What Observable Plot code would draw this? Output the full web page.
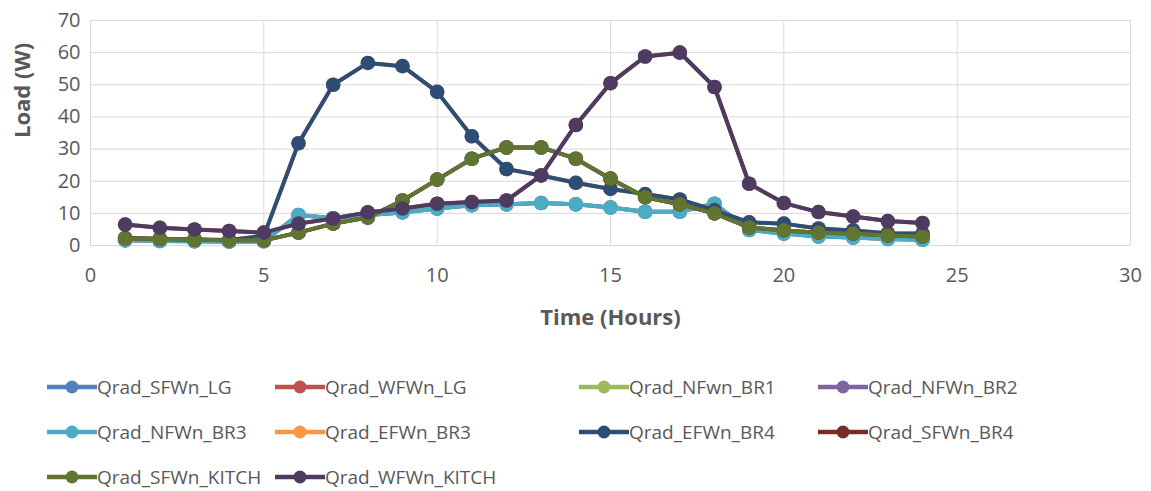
<!DOCTYPE html>
<html><head><meta charset="utf-8">
<script src="https://cdn.jsdelivr.net/npm/d3@7"></script>
<script src="https://cdn.jsdelivr.net/npm/@observablehq/plot@0.6"></script>
<style>
body{margin:0;background:#fff;font-family:"Open Sans",sans-serif;}
#wrap{position:relative;width:1151px;height:491px;overflow:hidden;}
#chart{position:absolute;left:0;top:0;}
.item{position:absolute;display:flex;align-items:center;height:30px;font-size:19px;color:#595959;white-space:nowrap;}
.item svg{display:block;margin-right:0px;}
</style></head><body><div id="wrap"><div id="chart"></div><div id="legend"></div></div>
<script>
const hours = [1,2,3,4,5,6,7,8,9,10,11,12,13,14,15,16,17,18,19,20,21,22,23,24];
const xTicks = [0,5,10,15,20,25,30];
const yTicks = [0,10,20,30,40,50,60,70];

const seriesNames = ["Qrad_SFWn_LG","Qrad_WFWn_LG","Qrad_NFwn_BR1","Qrad_NFWn_BR2","Qrad_NFWn_BR3","Qrad_EFWn_BR3","Qrad_EFWn_BR4","Qrad_SFWn_BR4","Qrad_SFWn_KITCH","Qrad_WFWn_KITCH"];
const seriesColors = ["#4F81BD","#C0504D","#9BBB59","#8064A2","#4BACC6","#F79646","#2C4D75","#772C2A","#5F7530","#4D3B62"];

// hidden series (covered by later-drawn series)
const sfwnLG   = [2.2,2,1.8,1.6,1.6,4,6.8,8.7,14,20.5,27,30.5,30.5,27,20.8,15,12.8,10,5.6,4.7,4,3.7,3.1,2.8];
const wfwnLG   = [6.5,5.5,5,4.5,4,6.8,8.4,10.3,11.5,13,13.5,14,21.8,37.5,50.5,58.8,60,49.3,19.2,13.2,10.4,9,7.6,7];
const nfwnBR1  = [1.6,1.4,1.3,1.2,1.3,9.5,8.5,9.5,10.3,11.5,12.5,12.8,13.2,12.8,11.8,10.5,10.5,13,4.8,3.7,2.8,2.5,2,1.8];
const nfwnBR2  = [1.6,1.4,1.3,1.2,1.3,9.5,8.5,9.5,10.3,11.5,12.5,12.8,13.2,12.8,11.8,10.5,10.5,13,4.8,3.7,2.8,2.5,2,1.8];
// visible series
const nfwnBR3  = [1.6,1.4,1.3,1.2,1.3,9.5,8.5,9.5,10.3,11.5,12.5,12.8,13.2,12.8,11.8,10.5,10.5,13,4.8,3.7,2.8,2.5,2,1.8];
const efwnBR3  = [2.3,2.1,1.9,1.7,3,31.8,50,56.8,55.8,47.8,34,23.8,21.8,19.5,17.6,16,14.3,11,7.2,6.8,5.3,4.7,3.8,3.7];
const efwnBR4  = [2.3,2.1,1.9,1.7,3,31.8,50,56.8,55.8,47.8,34,23.8,21.8,19.5,17.6,16,14.3,11,7.2,6.8,5.3,4.7,3.8,3.7];
const sfwnBR4  = [2.2,2,1.8,1.6,1.6,4,6.8,8.7,14,20.5,27,30.5,30.5,27,20.8,15,12.8,10,5.6,4.7,4,3.7,3.1,2.8];
const sfwnKITCH= [2.2,2,1.8,1.6,1.6,4,6.8,8.7,14,20.5,27,30.5,30.5,27,20.8,15,12.8,10,5.6,4.7,4,3.7,3.1,2.8];
const wfwnKITCH= [6.5,5.5,5,4.5,4,6.8,8.4,10.3,11.5,13,13.5,14,21.8,37.5,50.5,58.8,60,49.3,19.2,13.2,10.4,9,7.6,7];

const seriesValues = [sfwnLG,wfwnLG,nfwnBR1,nfwnBR2,nfwnBR3,efwnBR3,efwnBR4,sfwnBR4,sfwnKITCH,wfwnKITCH];

const rows = [];
seriesNames.forEach((s,i)=>hours.forEach((h,j)=>rows.push({series:s,hour:h,value:seriesValues[i][j]})));

const textColor = "#595959";
const marks = [
  Plot.gridX({ticks:xTicks, stroke:"#d9d9d9", strokeOpacity:1, strokeWidth:1}),
  Plot.gridY({ticks:yTicks, stroke:"#d9d9d9", strokeOpacity:1, strokeWidth:1}),
  Plot.axisX({ticks:xTicks, tickSize:0, tickPadding:22, fontSize:20, color:textColor, label:null}),
  Plot.axisY({ticks:yTicks, tickSize:0, tickPadding:10, fontSize:20, color:textColor, label:null}),
  Plot.text(["Time (Hours)"], {frameAnchor:"bottom", dy:79, fontSize:22, fontWeight:"bold", fill:textColor}),
  Plot.text(["Load (W)"], {frameAnchor:"left", dx:-68, dy:5, rotate:-90, fontSize:22, fontWeight:"bold", fill:textColor})
];
seriesNames.forEach(s=>{
  const d = rows.filter(r=>r.series===s);
  marks.push(Plot.line(d, {x:"hour", y:"value", stroke:"series", strokeWidth:4}));
  marks.push(Plot.dot(d, {x:"hour", y:"value", fill:"series", r:7.3, stroke:"none"}));
});

const chart = Plot.plot({
  width:1151, height:345,
  marginLeft:90, marginRight:21, marginTop:20, marginBottom:100,
  style:{fontFamily:"Open Sans", background:"#fff", color:textColor},
  x:{domain:[0,30]},
  y:{domain:[0,70]},
  color:{domain:seriesNames, range:seriesColors},
  marks
});
document.getElementById("chart").appendChild(chart);

// legend
const legendCols = [47,275,579,818];
const legendRows = [387,432,477];
const legend = document.getElementById("legend");
seriesNames.forEach((s,i)=>{
  const col = i%4, row = Math.floor(i/4);
  const div = document.createElement("div");
  div.className="item";
  div.style.left = legendCols[col]+"px";
  div.style.top = (legendRows[row]-15)+"px";
  const c = seriesColors[i];
  div.innerHTML = `<svg width="50" height="16"><line x1="0" y1="8" x2="50" y2="8" stroke="${c}" stroke-width="4.5"/><circle cx="25" cy="8" r="6.5" fill="${c}"/></svg><span>${s}</span>`;
  legend.appendChild(div);
});
</script></body></html>
